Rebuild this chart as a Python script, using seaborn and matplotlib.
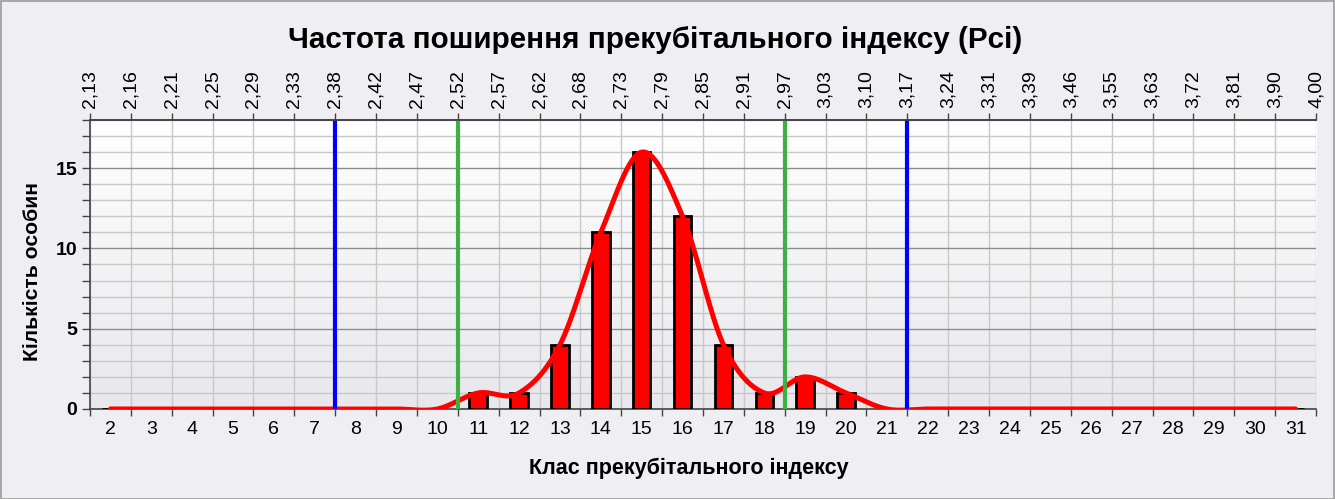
import numpy as np
import pandas as pd
import matplotlib
matplotlib.use("Agg")
import matplotlib.pyplot as plt
import seaborn as sns
from matplotlib.ticker import MultipleLocator, FixedLocator
from matplotlib.colors import LinearSegmentedColormap
from matplotlib.patches import Rectangle

# ---- data ----
classes = list(range(2, 32))
counts = [0, 0, 0, 0, 0, 0, 0, 0, 0, 1, 1, 4, 11, 16, 12, 4, 1, 2, 1, 0,
          0, 0, 0, 0, 0, 0, 0, 0, 0, 0]
top_labels = ["2,13", "2,16", "2,21", "2,25", "2,29", "2,33", "2,38", "2,42",
              "2,47", "2,52", "2,57", "2,62", "2,68", "2,73", "2,79", "2,85",
              "2,91", "2,97", "3,03", "3,10", "3,17", "3,24", "3,31", "3,39",
              "3,46", "3,55", "3,63", "3,72", "3,81", "3,90", "4,00"]
outer_limits = [7.5, 21.5]   # blue lines (class units)
inner_limits = [10.5, 18.5]  # green lines (class units)

title = "Частота поширення прекубітального індексу (Pci)"
xlabel = "Клас прекубітального індексу"
ylabel = "Кількість особин"

sns.set_theme(style="white")
plt.rcParams["font.family"] = ["Liberation Sans", "DejaVu Sans"]
for k in ["text.color", "axes.labelcolor", "xtick.color", "ytick.color"]:
    plt.rcParams[k] = "black"

fig = plt.figure(figsize=(13.35, 4.99), dpi=100)
fig.patch.set_facecolor("#efeef2")
ax = fig.add_axes([0.0674, 0.1804, 0.9184, 0.5791])

df = pd.DataFrame({"cls": [str(c) for c in classes], "n": counts})

# background gradient for plot area (white at top -> light grey at bottom)
grad = np.linspace(1, 0, 256).reshape(-1, 1)
cmap = LinearSegmentedColormap.from_list("bg", ["#ffffff", "#e8e7ec"])
ax.imshow(grad, aspect="auto", cmap=cmap, extent=[-0.5, len(classes) - 0.5, 0, 18],
          zorder=0, origin="lower")

sns.barplot(data=df, x="cls", y="n", ax=ax, color="#ff0000", width=0.43,
            edgecolor="black", linewidth=2, saturation=1, zorder=3)

# smoothed line (Excel-style bezier) through the counts
y = np.array(counts, dtype=float)
xs, ys = [], []
n = len(y)
for i in range(n - 1):
    p0 = y[i - 1] if i > 0 else y[i]
    p1, p2 = y[i], y[i + 1]
    p3 = y[i + 2] if i + 2 < n else y[i + 1]
    c1 = p1 + (p2 - p0) / 6
    c2 = p2 - (p3 - p1) / 6
    t = np.linspace(0, 1, 30)
    b = (1 - t) ** 3 * p1 + 3 * (1 - t) ** 2 * t * c1 + 3 * (1 - t) * t ** 2 * c2 + t ** 3 * p2
    xs.extend(i + t)
    ys.extend(b)
sns.lineplot(x=xs, y=ys, ax=ax, color="#ff0000", linewidth=3.6, sort=False,
             zorder=5, solid_capstyle="round")

for v in outer_limits:
    ax.axvline(classes.index(int(v - 0.5)) + 0.5, color="#0000ff", linewidth=3, zorder=6)
for v in inner_limits:
    ax.axvline(classes.index(int(v - 0.5)) + 0.5, color="#3db043", linewidth=3, zorder=6)

ax.set_xlim(-0.5, len(classes) - 0.5)
ax.set_ylim(0, 18)

# grid
ax.yaxis.set_major_locator(FixedLocator([0, 5, 10, 15]))
ax.yaxis.set_minor_locator(MultipleLocator(1))
ax.xaxis.set_minor_locator(FixedLocator(np.arange(-0.5, len(classes), 1.0)))
ax.grid(which="minor", axis="both", color="#c8c8c8", linewidth=1, zorder=1)
ax.grid(which="major", axis="y", color="#8c8c8c", linewidth=1, zorder=1)
ax.set_axisbelow(True)

ax.tick_params(axis="x", which="major", length=0, labelsize=14, pad=9)
ax.tick_params(axis="x", which="minor", length=5, width=1, color="#444444", direction="out")
ax.tick_params(axis="y", which="major", length=6, width=1, labelsize=14, color="#444444", pad=3)
ax.tick_params(axis="y", which="minor", length=6, width=1, color="#444444")
ax.tick_params(axis="x", which="both", bottom=True)
ax.tick_params(axis="y", which="both", left=True)
for lab in ax.get_yticklabels():
    lab.set_fontweight("bold")
ax.set_xlabel("")
ax.set_ylabel("")

for s in ["left", "bottom", "top"]:
    ax.spines[s].set_visible(True)
    ax.spines[s].set_color("#444444")
    ax.spines[s].set_linewidth(1.2)
ax.spines["right"].set_visible(False)

# top axis
ax2 = ax.twiny()
ax2.set_xlim(ax.get_xlim())
ax2.set_xticks(np.arange(-0.5, len(classes), 1.0))
ax2.set_xticklabels(top_labels, rotation=90, fontsize=14)
ax2.tick_params(axis="x", length=5, width=1, color="#444444", pad=4)
for s in ["left", "bottom", "right"]:
    ax2.spines[s].set_visible(False)
ax2.spines["top"].set_color("#444444")
ax2.spines["top"].set_linewidth(1.2)
ax2.grid(False)

fig.text(0.491, 0.92, title, ha="center", va="center", fontsize=21.3, fontweight="bold")
fig.text(0.516, 0.062, xlabel, ha="center", va="center", fontsize=15.5, fontweight="bold")
fig.text(0.024, 0.455, ylabel, ha="center", va="center", rotation=90, fontsize=15.2,
         fontweight="bold")

fig.patches.append(Rectangle((0.0008, 0.001), 0.9985, 0.997, transform=fig.transFigure,
                             fill=False, edgecolor="#9a9a9a", linewidth=1.2))

fig.savefig("out.png", dpi=100, facecolor=fig.get_facecolor())
